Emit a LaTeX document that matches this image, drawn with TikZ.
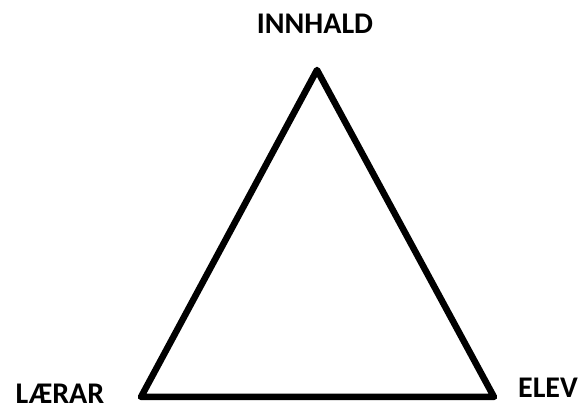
\documentclass[tikz,border=0pt]{standalone}
\usepackage{fontspec}
\setmainfont{Carlito}
\begin{document}
\begin{tikzpicture}[x=1pt,y=1pt,line width=6.5pt,line join=round,
  lbl/.style={font=\fontsize{30}{35}\selectfont\bfseries,inner sep=0pt}]
\useasboundingbox (0,0) rectangle (579,406);
\coordinate (innhald) at (317,336);
\coordinate (laerar) at (141,9);
\coordinate (elev) at (494,9);
\draw (innhald)--(elev)--(laerar)--cycle;
\node[lbl] (tInnhald) at (315,382) {INNHALD};
\node[lbl,anchor=base] (tLaerar) at (60,2.5) {LÆRAR};
\node[lbl,anchor=base] (tElev) at (548,8) {ELEV};
\end{tikzpicture}
\end{document}
